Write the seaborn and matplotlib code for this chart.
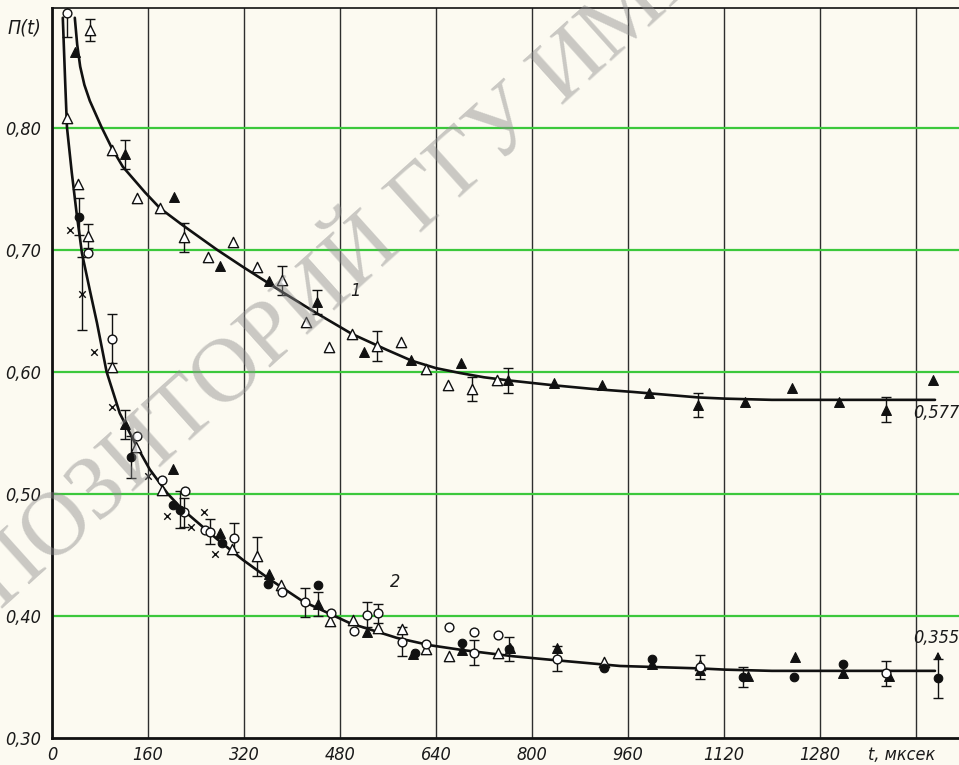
import matplotlib
matplotlib.use("Agg")
import matplotlib.pyplot as plt
import seaborn as sns
import numpy as np
import pandas as pd

# ---------------- data ----------------
# fitted curves
curve1_t = [38, 42, 47, 54, 63, 82, 100, 118, 155, 180, 218, 275, 318, 385, 441, 500, 558,
            600, 640, 680, 720, 760, 835, 900, 968, 1077, 1122, 1200, 1300, 1400, 1472]
curve1_p = [0.890, 0.868, 0.850, 0.835, 0.822, 0.801, 0.783, 0.768, 0.747, 0.734, 0.720,
            0.700, 0.686, 0.665, 0.648, 0.631, 0.618, 0.609, 0.603, 0.599, 0.5955, 0.593,
            0.589, 0.586, 0.5835, 0.579, 0.578, 0.577, 0.577, 0.577, 0.577]
curve2_t = [18, 22, 25, 33, 41, 50, 63, 75, 91, 113, 138, 163, 193, 218, 275, 318, 363,
            418, 497, 575, 630, 685, 768, 833, 947, 1080, 1122, 1200, 1300, 1400, 1472]
curve2_p = [0.890, 0.837, 0.800, 0.763, 0.730, 0.697, 0.667, 0.640, 0.600, 0.566, 0.542,
            0.520, 0.500, 0.487, 0.463, 0.446, 0.430, 0.412, 0.394, 0.382, 0.376, 0.372,
            0.367, 0.364, 0.359, 0.357, 0.356, 0.355, 0.355, 0.355, 0.355]

# open triangles
tri_open_t = [63, 100, 142, 180, 220, 260, 302, 342, 383, 423, 462, 500, 542, 582, 623,
              660, 700, 742,
              25, 43, 60, 100, 140, 183, 300, 342, 382, 463, 502, 543, 583, 623, 662,
              743, 920, 1080]
tri_open_p = [0.880, 0.782, 0.742, 0.734, 0.710, 0.694, 0.706, 0.686, 0.675, 0.641, 0.620,
              0.631, 0.621, 0.624, 0.602, 0.589, 0.586, 0.593,
              0.808, 0.754, 0.711, 0.604, 0.538, 0.503, 0.455, 0.449, 0.425, 0.396, 0.397,
              0.390, 0.389, 0.373, 0.367, 0.370, 0.362, 0.360]
tri_open_e = [0.009, 0, 0, 0, 0.012, 0, 0, 0, 0.012, 0, 0, 0, 0.012, 0, 0, 0, 0.010, 0,
              0, 0, 0.010, 0, 0, 0, 0, 0.016, 0, 0, 0, 0, 0, 0, 0, 0, 0, 0]

# filled triangles
tri_fill_t = [38, 122, 203, 280, 362, 442, 520, 598, 682, 760, 837, 917, 995, 1077, 1155,
              1233, 1312, 1390, 1468,
              122, 202, 280, 362, 443, 525, 602, 683, 763, 842, 1000, 1080, 1160, 1238,
              1318, 1395]
tri_fill_p = [0.862, 0.778, 0.743, 0.687, 0.674, 0.657, 0.616, 0.610, 0.607, 0.593, 0.591,
              0.589, 0.583, 0.573, 0.575, 0.587, 0.575, 0.569, 0.593,
              0.557, 0.520, 0.468, 0.434, 0.410, 0.387, 0.369, 0.372, 0.374, 0.374, 0.361,
              0.356, 0.351, 0.366, 0.353, 0.351]
tri_fill_e = [0, 0.012, 0, 0, 0, 0.010, 0, 0, 0, 0.010, 0, 0, 0, 0.010, 0, 0, 0, 0.010, 0,
              0.012, 0, 0, 0, 0.010, 0, 0, 0, 0, 0, 0, 0, 0, 0, 0, 0]

# open circles
circ_open_t = [25, 60, 100, 141, 183, 222, 220, 255, 263, 303, 383, 422, 465, 503, 525, 543,
               583, 623, 662, 703, 703, 743, 842, 1080, 1391]
circ_open_p = [0.894, 0.697, 0.627, 0.547, 0.511, 0.502, 0.485, 0.470, 0.469, 0.464, 0.420,
               0.411, 0.402, 0.388, 0.401, 0.402, 0.379, 0.377, 0.391, 0.387, 0.370, 0.384,
               0.365, 0.358, 0.353]
circ_open_e = [0.020, 0, 0.020, 0, 0, 0, 0.012, 0, 0.010, 0.012, 0, 0.012, 0, 0, 0.010,
               0.008, 0.012, 0, 0, 0, 0.010, 0, 0.010, 0.010, 0.010]

# filled circles
circ_fill_t = [45, 132, 202, 213, 283, 360, 443, 605, 683, 762, 920, 1000, 1152, 1237,
               1318, 1477]
circ_fill_p = [0.727, 0.530, 0.491, 0.487, 0.460, 0.426, 0.425, 0.370, 0.378, 0.373, 0.357,
               0.365, 0.350, 0.350, 0.361, 0.349]
circ_fill_e = [0.015, 0.017, 0, 0.015, 0, 0, 0, 0, 0, 0.010, 0, 0, 0.008, 0, 0, 0.016]

# crosses
cross_t = [30, 50, 70, 100, 160, 191, 232, 253, 272]
cross_p = [0.716, 0.664, 0.616, 0.571, 0.515, 0.482, 0.473, 0.485, 0.451]
cross_e = [0, 0.030, 0, 0, 0, 0, 0, 0, 0]

x_ticks = [0, 160, 320, 480, 640, 800, 960, 1120, 1280, 1440]
x_tick_labels = ["0", "160", "320", "480", "640", "800", "960", "1120", "1280", ""]
y_ticks = [0.30, 0.40, 0.50, 0.60, 0.70, 0.80]
y_tick_labels = ["0,30", "0,40", "0,50", "0,60", "0,70", "0,80"]

# ---------------- style ----------------
sns.set_style("white")
plt.rcParams["font.family"] = ["DejaVu Sans"]
LBL = dict(family=["DejaVu Sans"], style="italic", stretch="condensed", color="#1a1a1a")
BG = "#fcfaf1"
FS = 13

fig = plt.figure(figsize=(9.59, 7.65), dpi=100, facecolor=BG)
ax = fig.add_axes([52 / 959, 27 / 765, 907 / 959, 730 / 765])
ax.set_facecolor(BG)
ax.set_xlim(0, 1512)
ax.set_ylim(0.30, 0.898)

# grid
for xv in x_ticks:
    ax.axvline(xv, color="#2e2e2e", lw=1.0, zorder=1)
for yv in y_ticks[1:]:
    ax.axhline(yv, color="#3cc83c", lw=1.6, zorder=1)

for s in ["left", "bottom", "top"]:
    ax.spines[s].set_color("#111111")
ax.spines["left"].set_linewidth(2.0)
ax.spines["bottom"].set_linewidth(2.0)
ax.spines["top"].set_linewidth(1.2)
ax.spines["right"].set_visible(False)

# curves
sns.lineplot(x=curve1_t, y=curve1_p, ax=ax, color="#111111", lw=1.9, zorder=3, sort=False)
sns.lineplot(x=curve2_t, y=curve2_p, ax=ax, color="#111111", lw=1.9, zorder=3, sort=False)

# error bars
def errs(t, p, e):
    t = np.array(t); p = np.array(p); e = np.array(e)
    m = e > 0
    ax.errorbar(t[m], p[m], yerr=e[m], fmt="none", ecolor="#111111", elinewidth=1.0,
                capsize=3.5, capthick=1.0, zorder=4)

for t, p, e in [(tri_open_t, tri_open_p, tri_open_e), (tri_fill_t, tri_fill_p, tri_fill_e),
                (circ_open_t, circ_open_p, circ_open_e), (circ_fill_t, circ_fill_p, circ_fill_e),
                (cross_t, cross_p, cross_e)]:
    errs(t, p, e)

# markers
sns.scatterplot(x=tri_open_t, y=tri_open_p, ax=ax, marker="^", s=55, color="white",
                edgecolor="#111111", linewidth=1.0, zorder=5)
sns.scatterplot(x=tri_fill_t, y=tri_fill_p, ax=ax, marker="^", s=50, color="#111111",
                edgecolor="#111111", linewidth=0.8, zorder=5)
sns.scatterplot(x=circ_open_t, y=circ_open_p, ax=ax, marker="o", s=40, color="white",
                edgecolor="#111111", linewidth=1.0, zorder=5)
sns.scatterplot(x=circ_fill_t, y=circ_fill_p, ax=ax, marker="o", s=38, color="#111111",
                edgecolor="#111111", linewidth=0.8, zorder=5)
sns.scatterplot(x=cross_t, y=cross_p, ax=ax, marker="x", s=22, color="#111111",
                linewidth=1.0, zorder=5)

# arrow at last point of curve 2
ax.annotate("", xy=(1477, 0.373), xytext=(1477, 0.362),
            arrowprops=dict(arrowstyle="-|>", color="#111111", lw=1.0,
                            mutation_scale=10), zorder=6)

# ticks
ax.set_xticks(x_ticks)
ax.set_xticklabels(x_tick_labels, fontsize=FS, **LBL)
ax.set_yticks(y_ticks)
ax.set_yticklabels(y_tick_labels, fontsize=FS, **LBL)
ax.tick_params(axis="both", length=0)
ax.tick_params(axis="x", pad=6)
ax.tick_params(axis="y", pad=8)
ax.set_xlabel("")
ax.set_ylabel("")

# texts
ax.text(1417, 0.286, "t, мксек", fontsize=FS, ha="center", va="center",
        transform=ax.transData, clip_on=False, **LBL)
fig.text(8 / 959, 1 - 28 / 765, "П(t)", fontsize=FS + 1, ha="left", va="center", **LBL)
ax.text(505, 0.666, "1", fontsize=FS, ha="center", va="center", **LBL)
ax.text(572, 0.428, "2", fontsize=FS, ha="center", va="center", **LBL)
ax.text(1436, 0.566, "0,577", fontsize=FS, ha="left", va="center", clip_on=False, **LBL)
ax.text(1436, 0.382, "0,355", fontsize=FS, ha="left", va="center", clip_on=False, **LBL)

# watermark (scanned library stamp, runs off the page as in the original)
fig.text(-0.080, 0.110, "РЕПОЗИТОРИЙ ГГУ ИМЕНИ Ф. СКОРИНЫ", fontsize=65,
         family=["Liberation Serif", "DejaVu Serif"], color="#8c8c8c", alpha=0.45,
         rotation=42, rotation_mode="anchor", ha="left", va="baseline", zorder=10)

fig.savefig("out.png", dpi=100, facecolor=BG)
